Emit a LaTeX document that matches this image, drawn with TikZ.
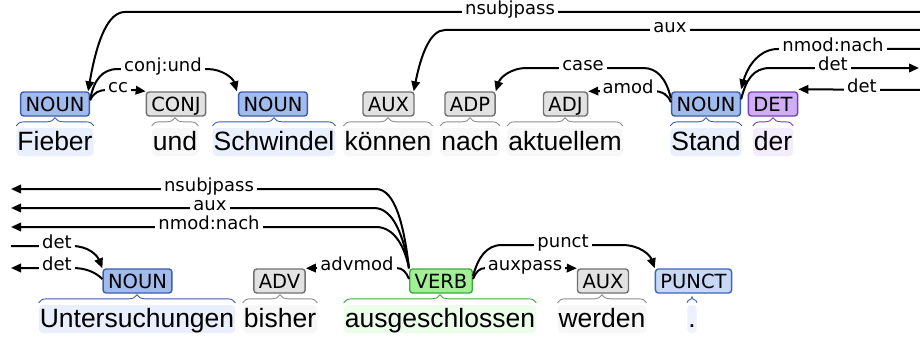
\documentclass[tikz,border=0pt]{standalone}
\usepackage{fontspec}
\setmainfont{DejaVu Sans}
\newfontfamily\dejavu{DejaVu Sans}
\newfontfamily\libsans{Liberation Sans}
\usetikzlibrary{arrows.meta,decorations.pathreplacing}
\definecolor{nounfill}{RGB}{162,187,237}
\definecolor{nounline}{RGB}{62,92,172}
\definecolor{punctfill}{RGB}{200,217,248}
\definecolor{punctline}{RGB}{62,100,190}
\definecolor{greyfill}{RGB}{226,226,226}
\definecolor{greyline}{RGB}{112,112,112}
\definecolor{detfill}{RGB}{206,174,246}
\definecolor{detline}{RGB}{122,62,182}
\definecolor{verbfill}{RGB}{162,240,150}
\definecolor{verbline}{RGB}{62,170,62}
\definecolor{nounbg}{RGB}{233,239,252}
\definecolor{greybg}{RGB}{247,247,247}
\definecolor{detbg}{RGB}{243,236,253}
\definecolor{verbbg}{RGB}{236,253,234}
\definecolor{punctbg}{RGB}{236,241,252}
\definecolor{greybrace}{RGB}{140,140,140}
\newcommand\mytagfont{\dejavu\fontsize{19.5}{19.5}\selectfont}
\newcommand\mylblfont{\dejavu\fontsize{18}{18}\selectfont}
\newcommand\mywordfont{\libsans\fontsize{26.5}{26.5}\selectfont}
\begin{document}
\begin{tikzpicture}[x=1pt,y=-1pt,
  tag/.style={draw, rounded corners=3pt, line width=1.4pt, inner xsep=5pt, inner ysep=0pt,
    minimum height=24pt, text height=14pt, text depth=0pt, font=\mytagfont},
  nountag/.style={tag, fill=nounfill, draw=nounline},
  greytag/.style={tag, fill=greyfill, draw=greyline},
  dettag/.style={tag, fill=detfill, draw=detline},
  verbtag/.style={tag, fill=verbfill, draw=verbline},
  puncttag/.style={tag, fill=punctfill, draw=punctline},
  word/.style={anchor=base, rounded corners=4pt, inner xsep=1pt, inner ysep=2pt,
    text height=20pt, text depth=4pt, font=\mywordfont},
  brc/.style={decorate, decoration={brace, amplitude=8pt}, line width=0.9pt},
  arc/.style={line width=2pt, -{Triangle[length=10pt,width=8.5pt]}},
  lbl/.style={fill=white, anchor=mid, inner xsep=3pt, inner ysep=1pt, text height=8pt,
    text depth=0pt, font=\mylblfont}
]
\useasboundingbox[fill=white] (0,0) rectangle (920,337);

% ---------- top row tags ----------
\node[nountag] (t1) at (55,104) {NOUN};
\node[greytag] (t2) at (176,104) {CONJ};
\node[nountag] (t3) at (273,104) {NOUN};
\node[greytag] (t4) at (388.5,104) {AUX};
\node[greytag] (t5) at (470,104) {ADP};
\node[greytag] (t6) at (565.5,104) {ADJ};
\node[nountag] (t7) at (706,104) {NOUN};
\node[dettag] (t8) at (773,104) {DET};

% ---------- top row words ----------
\node[word, fill=nounbg] (w1) at (55,150) {Fieber};
\node[word, fill=greybg] (w2) at (175,150) {und};
\node[word, fill=nounbg] (w3) at (274,150) {Schwindel};
\node[word, fill=greybg] (w4) at (388,150) {können};
\node[word, fill=greybg] (w5) at (470,150) {nach};
\node[word, fill=greybg] (w6) at (565,150) {aktuellem};
\node[word, fill=nounbg] (w7) at (706,150) {Stand};
\node[word, fill=detbg] (w8) at (773,150) {der};

% ---------- bottom row tags ----------
\node[nountag] (u1) at (137.5,281) {NOUN};
\node[greytag] (u2) at (279.5,281) {ADV};
\node[verbtag] (u3) at (441,281) {VERB};
\node[greytag] (u4) at (603,281) {AUX};
\node[puncttag] (u5) at (693.5,281) {PUNCT};

% ---------- bottom row words ----------
\node[word, fill=nounbg] (v1) at (137,327) {Untersuchungen};
\node[word, fill=greybg] (v2) at (280,327) {bisher};
\node[word, fill=verbbg] (v3) at (440,327) {ausgeschlossen};
\node[word, fill=greybg] (v4) at (602,327) {werden};
\node[word, fill=punctbg] (v5) at (692,327) {.};

% ---------- braces ----------
\foreach \w/\c in {w1/nounline,w2/greybrace,w3/nounline,w4/greybrace,w5/greybrace,w6/greybrace,w7/nounline,w8/detline,
                   v1/nounline,v2/greybrace,v3/verbline,v4/greybrace}
  \draw[brc, draw=\c] ([yshift=2pt]\w.north west) -- ([yshift=2pt]\w.north east);
\draw[decorate, decoration={brace, amplitude=6pt}, line width=0.9pt, draw=punctline]
  ([yshift=2pt]v5.north west) -- ([yshift=2pt]v5.north east);

% ---------- edge coordinates ----------
\coordinate (Rnsubj) at (920,12);
\coordinate (Raux) at (920,30);
\coordinate (Rnmod) at (920,49);
\coordinate (Rdetout) at (919,68);
\coordinate (Rdetin) at (920,90);
\coordinate (Lnsubj) at (11,189);
\coordinate (Laux) at (11,208);
\coordinate (Lnmod) at (11,227);
\coordinate (Ldetin) at (11,246);
\coordinate (Ldetout) at (11,268);

% ---------- top row connectors ----------
\draw[arc] (Rnsubj) -- (125,12) .. controls (108,12) and (97,40) .. ([xshift=-2pt]t1.north east);
\draw[arc] (Raux) -- (445,30) .. controls (430,30) and (421,55) .. ([xshift=-1pt]t4.north east);
\draw[arc] ([yshift=-8pt]t1.north east) .. controls (94,80) and (102,69) .. (118,69)
  -- (207,69) .. controls (222,69) and (233,78) .. ([xshift=-1pt]t3.north west);
\draw[arc] ([yshift=-9pt]t1.north east) .. controls (94,92) and (99,90) .. (108,90)
  -- (132,90) .. controls (139,90) and (143,91) .. (t2.north west);
\draw[arc] ([yshift=-7pt]t7.north west) .. controls (666,78) and (657,68) .. (643,68)
  -- (527,68) .. controls (510,68) and (500,78) .. (t5.north east);
\draw[arc] ([yshift=-11pt]t7.north west) .. controls (668,95) and (663,91) .. (652,91)
  -- (600,91) -- (t6.north east);
\draw[arc] (Rnmod) -- (778,49) .. controls (760,49) and (748,65) .. ([yshift=2pt]t7.north east);
\draw[arc] ([yshift=-8pt]t7.north east) .. controls (746,80) and (753,68) .. (770,68) -- (Rdetout);
\draw[arc] (Rdetin) -- ([yshift=2pt]t8.north east);

% ---------- bottom row connectors ----------
\draw[arc] (u3.north west) .. controls (404,225) and (395,189) .. (376,189) -- (Lnsubj);
\draw[arc] (u3.north west) .. controls (404,238) and (394,208) .. (374,208) -- (Laux);
\draw[arc] (u3.north west) .. controls (405,248) and (395,227) .. (376,227) -- (Lnmod);
\draw[arc] (Ldetin) -- (72,246) .. controls (88,246) and (97,255) .. (u1.north west);
\draw[arc] ([yshift=2pt]u1.west) .. controls (95,272) and (86,268) .. (72,268) -- (Ldetout);
\draw[arc] ([yshift=2pt]u3.west) .. controls (406,272) and (403,268) .. (396,268)
  -- (318,268) -- (u2.north east);
\draw[arc] ([yshift=2pt]u3.east) .. controls (476,272) and (479,268) .. (486,268)
  -- (565,268) -- (u4.north west);
\draw[arc] ([yshift=5pt]u3.east) .. controls (478,258) and (486,245) .. (502,245)
  -- (622,245) .. controls (640,245) and (650,255) .. (u5.north west);

% ---------- labels ----------
\node[lbl] (l1) at (510,12) {nsubjpass};
\node[lbl] (l2) at (670,30) {aux};
\node[lbl] (l3) at (163,69) {conj:und};
\node[lbl] (l4) at (118,90) {cc};
\node[lbl] (l5) at (583,68) {case};
\node[lbl] (l6) at (628,91) {amod};
\node[lbl] (l7) at (833,49) {nmod:nach};
\node[lbl] (l8) at (833,68) {det};
\node[lbl] (l9) at (862,90) {det};
\node[lbl] (m1) at (209,189) {nsubjpass};
\node[lbl] (m2) at (210,208) {aux};
\node[lbl] (m3) at (209,227) {nmod:nach};
\node[lbl] (m4) at (57,246) {det};
\node[lbl] (m5) at (57,268) {det};
\node[lbl] (m6) at (357,268) {advmod};
\node[lbl] (m7) at (525,268) {auxpass};
\node[lbl] (m8) at (563,245) {punct};
\end{tikzpicture}
\end{document}
